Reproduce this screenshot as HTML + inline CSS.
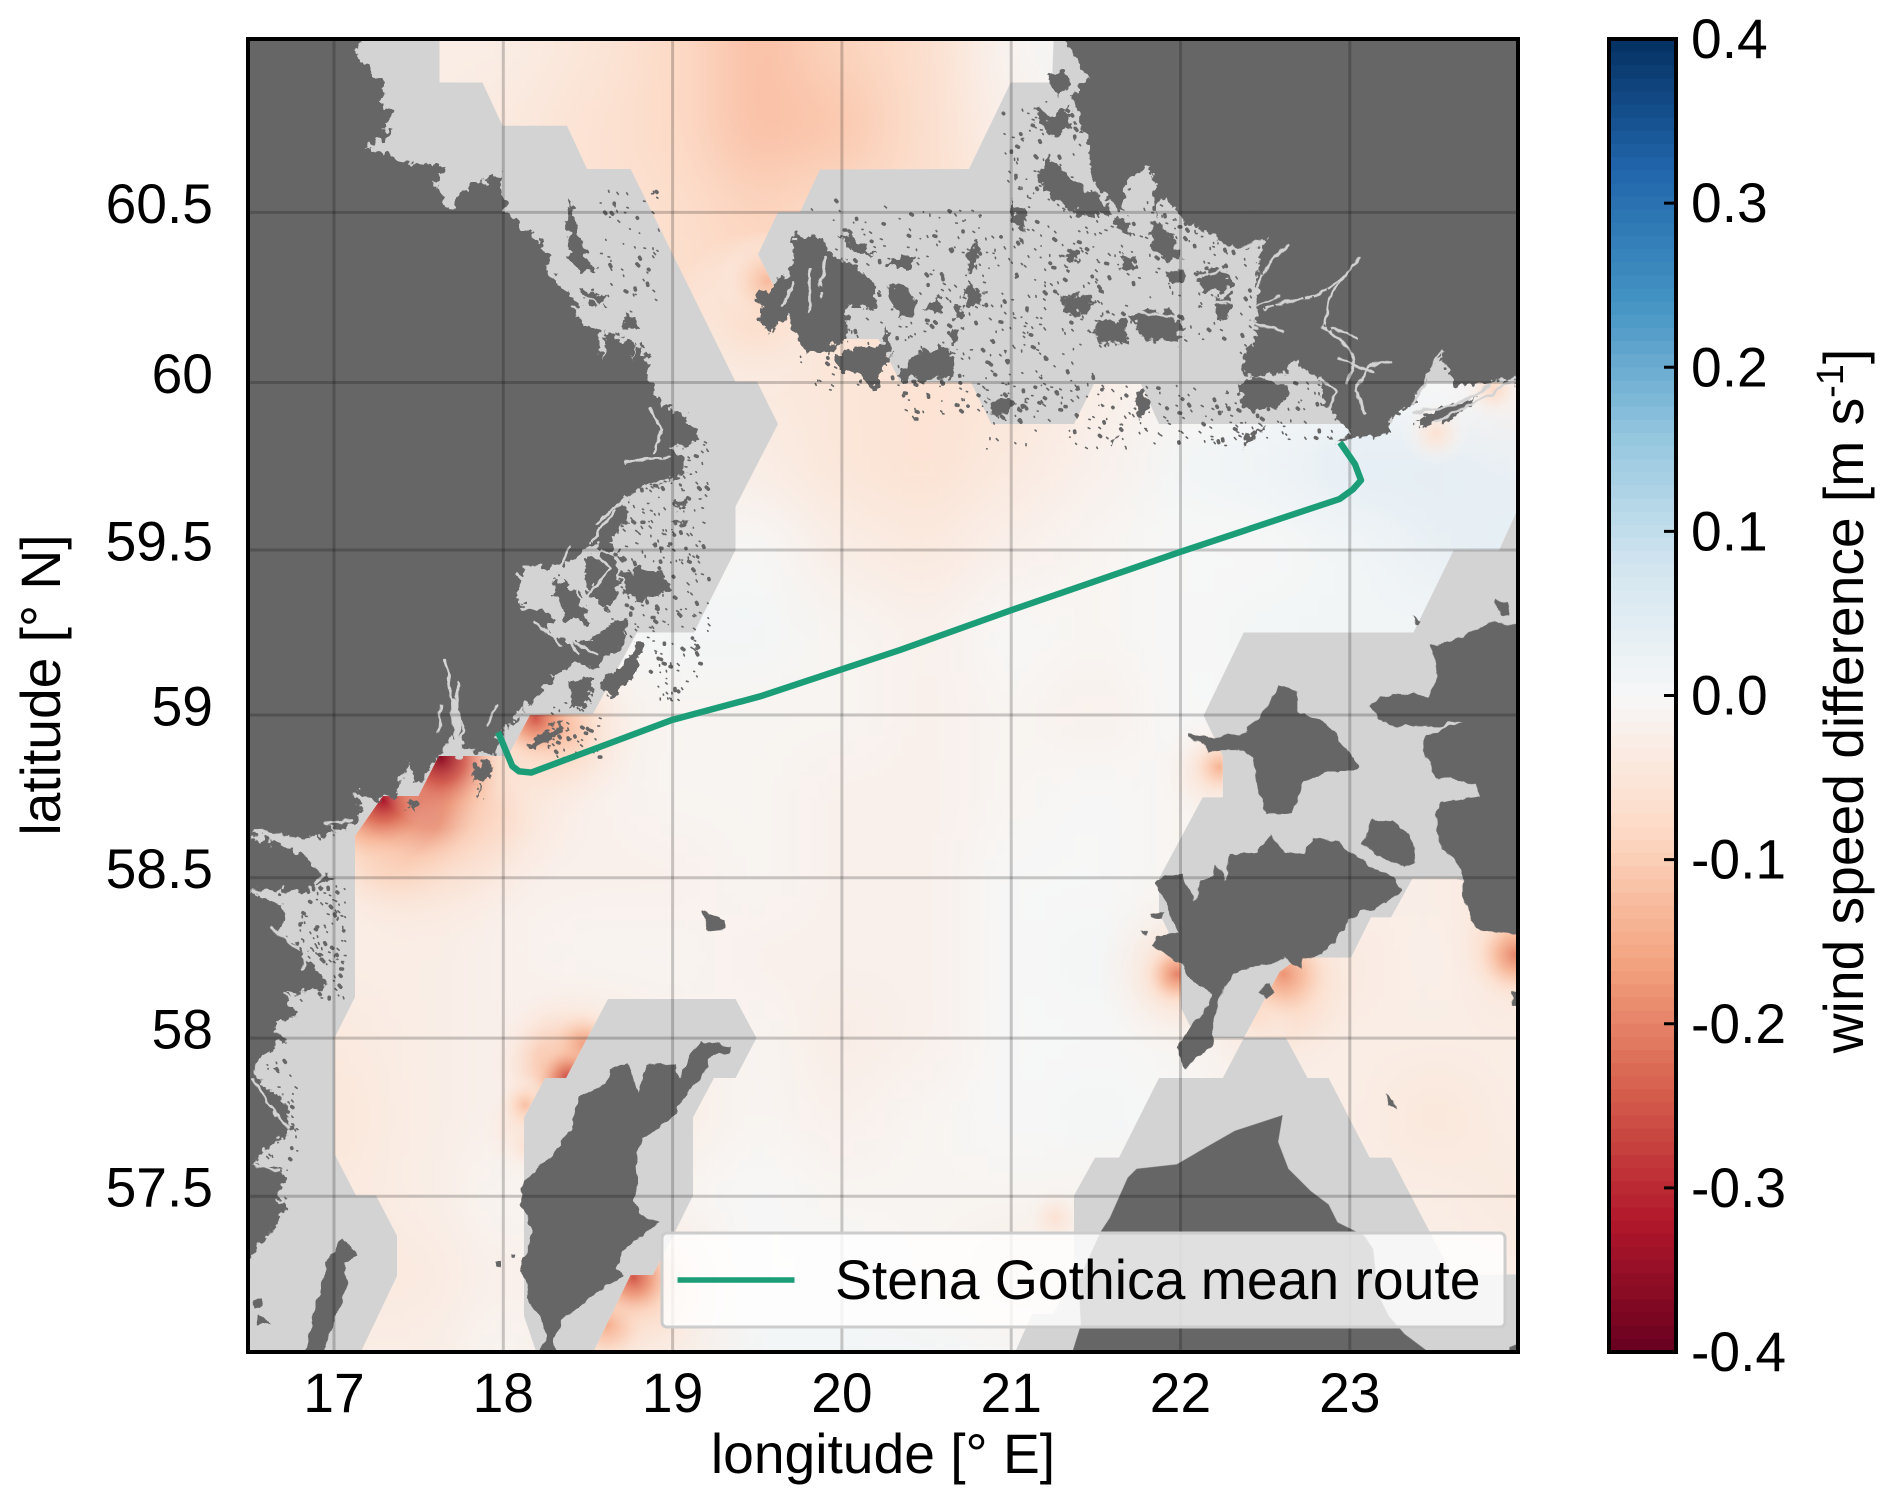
<!DOCTYPE html>
<html lang="en">
<head>
<meta charset="utf-8">
<title>Wind speed difference map</title>
<style>
html,body{margin:0;padding:0;background:#fff}
svg{display:block}
text{font-family:"Liberation Sans",sans-serif;fill:#000}
</style>
</head>
<body>
<svg id="figure" xmlns="http://www.w3.org/2000/svg" width="1892" height="1504" viewBox="0 0 1892 1504">
<defs>
<clipPath id="plot-clip"><rect x="248" y="39" width="1270" height="1313"/></clipPath>
<clipPath id="data-clip">
<polygon points="439.5,30 1054,30 1052,82.5 1010.7,82.5 969,169 820,169.5 800,212 778,212 758,254.4 800,339 878.4,339 900,381.6 971,382.5 991.5,424 1074,424 1094,384 1141,384 1159,424 1391,424 1411,382.5 1530,382.5 1530,513 1516,513 1499,550.4 1453.6,550.4 1413.4,632.5 1243.7,632.5 1203.6,715.5 1222.8,756 1222.8,797.3 1202.7,797.3 1159,878.6 1159,912 1181,959 1181,1008 1192,1030 1206,1038 1243.8,1038 1222.8,1078 1159,1078 1119,1157.6 1095,1157.6 1074,1195.5 1074,1275 1053,1314 1032,1314 1011.6,1360 589.5,1360 630.6,1275 653,1275 673,1235.7 693,1195.5 693,1117.4 714,1078 735.5,1078 756.5,1038 735.5,999 608,999 566,1078 545,1078 524,1117.4 524,1316 539,1360 357,1360 397,1276 397,1235.7 376,1195.5 356,1195.5 335,1155 335,1037 355,997 355,836 383,796 418.6,796 438.7,756 508,756 530,715 593,714 637,632.5 694,632.5 735.5,550 735.5,506.6 778,424 757,381.6 735.5,381.6 630.6,169 587,169 567,125.8 502.5,125.8 482.4,82.5 439.5,82.5"/>
<polygon points="1298.7,957.6 1351,957.6 1371,917.4 1391,917.4 1412.5,878.6 1455.8,878.6 1530,900 1530,1274.5 1452,1274.5 1391,1157.6 1369.6,1157.6 1328.6,1078 1307.6,1078 1286,1038 1243.8,1038 1279.5,972"/>
</clipPath>
<filter id="field-blur" filterUnits="userSpaceOnUse" x="0" y="-200" width="1892" height="1900"><feGaussianBlur stdDeviation="30"/></filter>
<filter id="coast-rough" filterUnits="userSpaceOnUse" x="0" y="0" width="1892" height="1504" color-interpolation-filters="sRGB">
  <feTurbulence type="fractalNoise" baseFrequency="0.11" numOctaves="3" seed="7" result="n"/>
  <feDisplacementMap in="SourceGraphic" in2="n" scale="17" xChannelSelector="R" yChannelSelector="G"/>
</filter>
<filter id="coast-fine" filterUnits="userSpaceOnUse" x="0" y="0" width="1892" height="1504" color-interpolation-filters="sRGB">
  <feTurbulence type="fractalNoise" baseFrequency="0.09" numOctaves="2" seed="3" result="n"/>
  <feDisplacementMap in="SourceGraphic" in2="n" scale="7" xChannelSelector="R" yChannelSelector="G"/>
</filter>
</defs>

<rect x="0" y="0" width="1892" height="1504" fill="#fff"/>

<g clip-path="url(#plot-clip)">
  <rect x="248" y="39" width="1270" height="1313" fill="#d3d3d3"/>
  <g clip-path="url(#data-clip)">
    <g id="field-cells" filter="url(#field-blur)"></g>
    <g id="field-hotspots"></g>
  </g>

  <g fill="#666666" filter="url(#coast-rough)">
    <g transform="translate(240,20) scale(.44643)">
      <polygon points="-60,0 280,0 265,80 285,110 300,130 330,135 310,185 345,205 320,240 345,245 325,265 280,290 330,298 380,322 440,320 460,340 435,370 460,420 485,425 490,390 520,365 585,350 595,420 640,470 700,530 680,555 710,575 750,625 760,670 800,700 810,760 820,700 880,720 880,770 885,725 905,735 925,820 940,860 1000,890 1025,920 1020,950 990,950 970,960 1000,990 1000,1015 960,1035 890,1050 850,1090 880,1100 840,1150 780,1180 730,1220 680,1225 640,1230 620,1290 640,1320 700,1330 690,1360 740,1440 690,1490 620,1550 600,1590 -60,1590"/>
      <polygon points="735,405 748,420 760,490 780,540 800,560 760,570 740,530 735,480"/>
      <polygon points="760,600 820,620 825,640 780,640"/>
      <polygon points="860,650 890,670 895,700 860,690"/>
      <polygon points="780,1200 840,1195 850,1260 830,1320 790,1300 770,1240"/>
      <polygon points="800,1160 840,1150 830,1185 800,1190"/>
      <polygon points="855,1240 900,1225 945,1235 965,1275 900,1300 860,1290"/>
      <polygon points="700,1245 760,1290 780,1350 725,1340"/>
      <polygon points="700,1390 780,1390 840,1350 870,1340 860,1390 800,1450 740,1440"/>
      <polygon points="730,1480 790,1470 785,1530 745,1540"/>
      <polygon points="810,1480 860,1440 890,1390 905,1400 880,1470 830,1520"/>
      <polygon points="975,1080 1000,1080 990,1095 975,1095"/>
      <polygon points="970,1130 1000,1125 990,1140"/>
      <polygon points="1240,480 1300,490 1330,530 1390,560 1430,600 1420,650 1360,640 1360,715 1330,730 1320,745 1270,740 1240,700 1230,660 1200,700 1165,680 1170,640 1150,620 1190,600 1215,580 1240,540"/>
      <polygon points="1380,735 1430,740 1450,690 1460,740 1430,800 1420,830 1390,800 1370,790 1340,790 1330,750"/>
      <polygon points="1450,595 1490,590 1510,630 1480,660 1455,640"/>
      <polygon points="1470,800 1500,770 1568,730 1600,740 1600,800 1520,810"/>
      <polygon points="1525,650 1568,620 1568,660"/>
      <polygon points="1340,480 1400,500 1420,530 1380,520"/>
      <polygon points="1450,540 1510,530 1500,560 1460,560"/>
    </g>
    <g transform="translate(900,20) scale(.44643)">
      <polygon points="345,-40 1500,-40 1500,800 1330,810 1240,825 1210,742 1180,800 1150,860 1095,895 1090,925 1000,945 975,950 1010,925 950,860 935,800 900,780 880,760 860,790 790,800 770,790 770,740 800,730 790,690 800,650 800,560 815,495 740,515 700,480 640,450 590,390 575,440 565,325 510,360 490,430 430,360 420,270 400,230 385,180 415,130 400,90 370,50"/>
      <polygon points="310,345 335,305 370,340 420,385 470,415 470,435 420,440 370,420 320,380"/>
      <polygon points="335,130 370,110 380,150 350,170"/>
      <polygon points="300,190 340,220 375,190 385,240 340,260 310,225"/>
      <polygon points="520,655 600,650 640,690 620,725 540,715"/>
      <polygon points="445,675 505,670 510,725 455,730 430,700"/>
      <polygon points="660,565 735,560 740,600 680,610"/>
      <polygon points="705,625 750,610 745,660 710,680"/>
      <polygon points="565,450 610,480 640,535 595,540 560,500"/>
      <polygon points="600,560 640,560 640,590 605,595"/>
      <polygon points="360,625 430,615 425,660 370,655"/>
      <polygon points="365,510 400,520 400,540 375,545"/>
      <polygon points="150,590 185,610 180,640 145,630"/>
      <polygon points="120,640 140,640 142,668 122,665"/>
      <polygon points="0,600 30,615 32,660 0,670"/>
      <polygon points="112,700 125,700 132,725 118,728"/>
      <polygon points="10,770 60,735 100,750 100,790 60,805 15,800"/>
      <polygon points="250,400 280,430 278,480 255,450"/>
      <polygon points="480,440 520,450 515,480 485,475"/>
      <polygon points="490,530 530,530 530,560 495,555"/>
      <polygon points="150,530 170,490 170,560 152,570"/>
      <polygon points="200,850 250,845 245,885 205,880"/>
      <polygon points="760,810 800,800 870,820 860,860 790,880 765,860"/>
      <polygon points="950,780 1010,790 1080,760 1070,800 1060,870 1000,880 955,840"/>
      <polygon points="530,840 550,830 560,880 525,880"/>
      <polygon points="470,935 495,930 480,950"/>
      <polygon points="770,930 820,910 790,940 770,955"/>
      <polygon points="1150,900 1230,860 1290,850 1240,890 1170,915"/>
    </g>
    <g transform="translate(240,700) scale(.44643)">
      <polygon points="-60,-10 650,-10 620,40 590,60 580,80 570,125 520,115 470,85 445,125 400,190 380,140 340,220 300,220 250,205 280,250 230,300 190,275 215,300 130,310 30,292 30,302 130,340 210,400 150,430 30,425 100,470 90,520 140,560 200,640 100,660 130,700 80,730 100,760 50,800 30,840 100,900 120,965 60,1000 30,1040 110,1060 80,1110 105,1130 70,1190 26,1245 -60,1250"/>
      <polygon points="520,145 560,140 565,175 525,185"/>
      <polygon points="640,100 680,70 730,50 700,85 660,110"/>
      <polygon points="533,195 540,195 538,225"/>
      <polygon points="375,225 395,230 392,262 380,250"/>
    </g>
  </g>

  <g fill="#666666" filter="url(#coast-fine)">
    <g transform="translate(240,700) scale(.44643)">
      <polygon points="630,1090 660,1050 700,1020 740,960 760,890 820,860 830,830 870,810 890,880 910,820 975,815 985,850 1010,790 1035,765 1100,775 1095,790 1060,795 1030,850 1000,880 980,920 940,960 900,980 885,1040 890,1100 880,1120 895,1150 940,1170 900,1200 860,1230 840,1270 860,1290 780,1340 720,1390 700,1440 725,1480 660,1480 690,1420 650,1350 640,1300 625,1280 655,1190 630,1130"/>
      <polygon points="140,1480 175,1340 195,1260 230,1205 265,1245 235,1260 240,1320 200,1420 180,1480"/>
      <polygon points="1035,473 1075,483 1090,495 1085,515 1050,518"/>
      <polygon points="575,1260 588,1260 586,1270 573,1268"/>
      <polygon points="608,1240 618,1240 616,1250 608,1249"/>
      <polygon points="30,1345 48,1340 45,1362 32,1360"/>
      <polygon points="40,1380 70,1395 40,1400"/>
    </g>
    <g transform="translate(900,700) scale(.44643)">
      <polygon points="595,392 635,392 660,455 672,405 700,395 705,365 730,405 740,345 800,340 830,300 860,340 905,345 925,310 985,320 1050,370 1110,400 1125,430 1060,470 1030,470 1000,500 985,530 945,570 905,580 900,605 860,575 835,590 800,595 750,610 725,640 715,670 700,730 705,770 640,825 620,780 650,730 680,700 700,660 650,625 630,590 565,550 575,530 625,520 590,440 570,410"/>
      <polygon points="645,75 690,85 770,75 810,30 850,-33 890,-23 890,25 960,50 990,100 1030,150 1025,160 950,160 905,185 880,255 820,255 800,200 790,130 760,110 720,110 690,120 680,100 645,85"/>
      <polygon points="1035,320 1060,270 1100,270 1140,300 1160,360 1130,375 1070,350"/>
      <polygon points="1500,-173 1320,-173 1250,-138 1190,-123 1205,-53 1190,-23 1165,17 1200,50 1260,50 1180,80 1170,110 1200,170 1290,190 1300,215 1210,230 1200,260 1210,330 1260,380 1260,440 1290,510 1340,520 1500,540"/>
      <polygon points="1050,10 1100,-15 1170,-10 1240,20 1220,60 1140,60 1080,50"/>
      <polygon points="560,480 590,475 585,490 560,490"/>
      <polygon points="540,515 552,520 548,530"/>
      <polygon points="805,650 825,635 835,655 820,670"/>
      <polygon points="1088,885 1108,895 1112,915 1095,908"/>
      <polygon points="1370,650 1500,650 1500,690 1372,685"/>
      <polygon points="1335,-223 1360,-218 1365,-188 1345,-193"/>
      <polygon points="1145,-188 1165,-178 1160,-171"/>
    </g>
  </g>

  <g fill="#666666" transform="translate(900,700) scale(.44643)">
    <polygon points="380,1480 405,1400 400,1300 450,1190 470,1160 510,1070 530,1050 620,1040 680,1005 750,965 857,930 847,990 870,1050 920,1100 960,1130 980,1170 1040,1200 1060,1230 1070,1330 1095,1380 1130,1420 1210,1480"/>
    <polygon points="1365,1450 1400,1435 1400,1470 1365,1470"/>
  </g>

  <g fill="none" stroke="#d3d3d3" stroke-linejoin="round" stroke-linecap="round" filter="url(#coast-fine)">
    <g transform="translate(240,20) scale(.44643)" stroke-width="6">
      <path d="M865 995L900 985L960 980M920 870L945 920L925 970M620 1240L640 1260L620 1290L670 1310L630 1320M700 1220L750 1260L770 1310L820 1350M705 1320L720 1370L760 1420M690 1360L760 1400L800 1420M800 1130L850 1080L930 1040L960 1030M780 1180L830 1230L780 1290M460 1435L470 1500L490 1590M490 1480L480 1590M740 1180L700 1250M840 1100L790 1160M660 1350L720 1400"/>
      <path d="M710 575L760 610L810 640M745 640L790 670" stroke-width="4"/>
      <path d="M1275 560L1275 650M1310 530L1300 620M1240 590L1215 640" stroke-width="7"/>
    </g>
    <g transform="translate(900,20) scale(.44643)" stroke-width="6">
      <path d="M1030 530L1000 570L960 620L950 690L1000 730L1020 760L1000 810M1000 570L930 620L860 630L815 650M870 505L830 540L800 600L790 680L860 695M815 495L740 520L670 540M790 600L760 570L720 560L650 580L640 560L620 470L590 400M1215 740L1180 800L1150 860M1100 765L1050 775L1020 830L1040 880M790 680L770 720M640 640L790 630M515 650L800 690M950 690L1000 700L1020 715M985 760L1060 790M1320 820L1250 860L1150 880M1381 800L1300 850L1200 900M940 800L980 830L960 870"/>
      <path d="M700 550L800 525M560 590L640 610M660 630L730 640M690 700L780 690M850 620L800 640" stroke-width="4"/>
    </g>
    <g transform="translate(240,700) scale(.44643)" stroke-width="6">
      <path d="M480 0L500 70L490 120M450 10L445 70M575 10L555 60M30 425L110 470L180 520L220 570M100 470L150 540L140 600M100 660L160 700L130 760M80 740L130 770M30 830L90 880L130 950M30 850L80 930M30 1040L110 1060M190 275L250 270M30 292L130 312L210 330M70 510L130 560M60 900L110 960"/>
      <path d="M480 10L490 125" stroke-width="15"/>
      <path d="M130 320L190 390L160 420" stroke-width="10"/>
    </g>
  </g>
  <g id="speckles" fill="none" stroke="#666666" stroke-linecap="round"></g>

  <g id="grid"></g>
  <polyline id="route" fill="none" stroke="#1b9e77" stroke-width="6.4" stroke-linejoin="round" stroke-linecap="butt"/>
</g>

<g>
  <rect x="662" y="1233" width="843" height="94" rx="5" ry="5" fill="#fff" fill-opacity=".8" stroke="#cccccc" stroke-width="3"/>
  <line x1="677.5" y1="1280" x2="794.5" y2="1280" stroke="#1b9e77" stroke-width="5.6"/>
  <text x="835" y="1299" font-size="55.3">Stena Gothica mean route</text>
</g>

<rect x="248" y="39" width="1270" height="1313" fill="none" stroke="#000" stroke-width="4"/>

<g id="x-ticks"></g>
<g id="y-ticks"></g>
<text x="883" y="1473" font-size="55.2" text-anchor="middle">longitude [° E]</text>
<text transform="translate(60,685) rotate(-90)" font-size="55.2" text-anchor="middle">latitude [° N]</text>

<g>
  <g id="cbar-levels"></g>
  <g id="cbar-ticks"></g>
  <rect x="1609" y="39" width="67" height="1313" fill="none" stroke="#000" stroke-width="4"/>
</g>
<text transform="translate(1863,701) rotate(-90)" font-size="55.2" text-anchor="middle">wind speed difference [m s<tspan font-size="38" dy="-20">-1</tspan><tspan dy="20">]</tspan></text>

<script>
// ---- chart data ----
const tickLons = [17, 18, 19, 20, 21, 22, 23];
const tickLats = [60.5, 60, 59.5, 59, 58.5, 58, 57.5];
const colorbarTicks = ["0.4", "0.3", "0.2", "0.1", "0.0", "-0.1", "-0.2", "-0.3", "-0.4"];

const routeLons = [17.969, 18.053, 18.093, 18.164, 18.996, 19.516, 20.343, 20.997, 21.997, 22.94, 23.019, 23.066, 23.031, 22.942];
const routeLats = [58.948, 58.844, 58.828, 58.824, 58.985, 59.057, 59.198, 59.318, 59.494, 59.653, 59.682, 59.709, 59.757, 59.822];

const fieldLons = [16.5, 17, 17.5, 18, 18.5, 19, 19.5, 20, 20.5, 21, 21.5, 22, 22.5, 23, 23.5, 24];
const fieldLats = [61, 60.75, 60.5, 60.25, 60, 59.75, 59.5, 59.25, 59, 58.75, 58.5, 58.25, 58, 57.75, 57.5, 57.25, 57];
const fieldValues = [
 [-.03,-.03,-.03,-.03,-.05,-.08,-.12,-.09,-.07,-.01,.01,.01,.01,.01,.01,.01],
 [-.03,-.03,-.03,-.04,-.06,-.08,-.12,-.11,-.07,-.02,0,0,0,0,0,0],
 [-.04,-.04,-.04,-.05,-.06,-.07,-.09,-.08,-.07,-.04,0,0,0,0,0,0],
 [-.04,-.04,-.04,-.05,-.06,-.07,-.08,-.06,-.06,-.05,-.02,0,0,0,0,0],
 [-.04,-.04,-.04,-.04,-.04,-.04,-.04,-.05,-.06,-.05,-.03,-.01,0,.01,0,-.02],
 [-.03,-.03,-.03,-.03,-.03,-.03,-.03,-.05,-.06,-.04,-.02,.01,.02,.04,.04,.03],
 [-.01,-.01,-.01,-.01,-.01,-.01,0,-.03,-.04,-.02,-.01,0,0,.01,.03,.04],
 [-.01,-.01,-.01,-.01,0,.01,.01,-.01,-.02,0,-.01,0,.01,.01,.01,.01],
 [-.03,-.03,-.03,-.04,-.03,-.01,-.01,-.01,-.02,-.01,-.02,0,0,0,0,0],
 [-.05,-.05,-.06,-.06,-.02,-.01,-.01,-.02,-.02,-.01,0,-.01,-.01,-.01,-.01,-.01],
 [-.03,-.03,-.04,-.02,-.02,-.02,-.01,-.02,-.02,0,0,-.01,-.02,-.02,-.03,-.05],
 [-.03,-.03,-.03,-.02,-.01,-.01,-.02,-.02,-.02,0,.01,-.03,-.04,-.04,-.02,-.06],
 [-.04,-.04,-.03,-.02,-.04,-.02,-.01,-.03,-.02,0,0,-.01,-.03,-.03,-.03,-.03],
 [-.05,-.05,-.03,-.02,-.05,-.03,-.01,-.02,-.01,0,.01,0,-.03,-.03,-.05,-.03],
 [-.04,-.04,-.03,-.01,-.01,-.01,0,-.01,-.01,-.01,-.01,-.02,-.03,-.03,-.03,-.04],
 [-.04,-.04,-.04,-.02,-.03,-.04,0,0,-.01,-.03,-.04,-.03,-.03,-.03,-.03,-.03],
 [-.03,-.03,-.03,-.01,-.03,-.03,.01,.01,.01,0,-.01,-.02,-.02,-.02,-.02,-.02]
];

const hotspotLons = [17.6, 17.35, 18.3, 18.2, 18.35, 18.75, 22.6, 22, 24, 22.2, 19.5, 19.56, 23.85, 23.51, 21.26, 22.45, 18.13, 18.13, 22.23, 18.61, 23.98, 22.61, 21.98, 18.48, 18.34, 18.77, 18.39, 18.19, 17.21, 17.51, 17.29, 17.63];
const hotspotLats = [58.72, 58.62, 58.95, 57.72, 57.92, 57.2, 58.15, 58.2, 58.3, 58.83, 60.2, 60.30, 59.98, 59.85, 57.43, 58.08, 57.79, 57.66, 58.84, 57.09, 58.26, 58.20, 58.20, 57.97, 58.96, 57.24, 57.87, 58.99, 58.69, 58.74, 58.74, 58.87];
const hotspotValues = [-.14, -.13, -.12, -.1, -.15, -.12, -.1, -.08, -.1, -.07, -.08, -.13, -.08, -.06, -.06, -.08, -.12, -.06, -.14, -.15, -.2, -.18, -.2, -.18, -.15, -.25, -.28, -.25, -.22, -.28, -.33, -.36];
const hotspotReach = [.85, .6, .55, .35, .45, .55, .6, .5, .5, .35, .5, .3, .18, .2, .2, .24, .18, .15, .2, .3, .3, .35, .24, .27, .3, .3, .24, .3, .35, .5, .36, .42];

// ---- axis functions ----
const SVGNS = "http://www.w3.org/2000/svg";
const LON_PX = 169.3;
const LAT_PX = 9670;
function merc(lat) { return Math.log(Math.tan(Math.PI / 4 + lat * Math.PI / 360)); }
function xOf(lon) { return 334 + (lon - 17) * LON_PX; }
function yOf(lat) { return 382.5 + LAT_PX * (merc(60) - merc(lat)); }
function cbarY(v) { return 39 + (0.4 - v) / 0.8 * 1313; }

const rdbu = ["#67001f","#b2182b","#d6604d","#f4a582","#fddbc7","#f7f7f7","#d1e5f0","#92c5de","#4393c3","#2166ac","#053061"];
function hexRgb(h) { return [1, 3, 5].map(function (i) { return parseInt(h.substr(i, 2), 16); }); }
function colorOf(v) {
  const t = Math.max(0, Math.min(0.99999, (v + 0.4) / 0.8)) * (rdbu.length - 1);
  const i = Math.floor(t), f = t - i;
  const a = hexRgb(rdbu[i]), b = hexRgb(rdbu[i + 1]);
  return "rgb(" + a.map(function (c, k) { return Math.round(c + (b[k] - c) * f); }).join(",") + ")";
}
function make(tag, attrs, parent) {
  const el = document.createElementNS(SVGNS, tag);
  for (const k in attrs) el.setAttribute(k, attrs[k]);
  parent.appendChild(el);
  return el;
}

// ---- heatmap cells ----
const cellsGroup = document.getElementById("field-cells");
fieldLats.forEach(function (lat, r) {
  fieldLons.forEach(function (lon, c) {
    let top = yOf(lat + 0.125), bottom = yOf(lat - 0.125);
    let left = xOf(lon - 0.25), right = xOf(lon + 0.25);
    if (r === 0) top -= 120;
    if (r === fieldLats.length - 1) bottom += 120;
    if (c === 0) left -= 120;
    if (c === fieldLons.length - 1) right += 120;
    const cell = make("rect", { x: left, y: top, width: right - left + 1, height: bottom - top + 1, fill: colorOf(fieldValues[r][c]) }, cellsGroup);
    
    
  });
});

// ---- coastal hotspots ----
const hotGroup = document.getElementById("field-hotspots");
const svgDefs = document.querySelector("#figure defs");
hotspotValues.forEach(function (v, i) {
  const id = "hot-" + i;
  const grad = make("radialGradient", { id: id }, svgDefs);
  make("stop", { offset: "0", "stop-color": colorOf(v), "stop-opacity": "1" }, grad);
  make("stop", { offset: "0.35", "stop-color": colorOf(v * 0.72), "stop-opacity": "0.8" }, grad);
  make("stop", { offset: "0.7", "stop-color": colorOf(v * 0.4), "stop-opacity": "0.35" }, grad);
  make("stop", { offset: "1", "stop-color": colorOf(v * 0.2), "stop-opacity": "0" }, grad);
  const spot = make("circle", { cx: xOf(hotspotLons[i]), cy: yOf(hotspotLats[i]), r: hotspotReach[i] * LON_PX, fill: "url(#" + id + ")" }, hotGroup);
  
  
});

// ---- basemap islets (decorative coastline texture, not data) ----
const speckleAreas = [
  [900, 210, 1100, 420, 260], [1090, 190, 1340, 340, 200], [1000, 100, 1080, 210, 60],
  [970, 385, 1240, 450, 110], [800, 200, 900, 390, 70], [610, 440, 710, 640, 170],
  [650, 640, 700, 700, 35], [548, 700, 600, 760, 35], [300, 880, 345, 1000, 80],
  [265, 1060, 300, 1180, 30], [600, 190, 660, 300, 40], [1240, 340, 1340, 440, 60]
];
let speckleSeed = 48271;
function nextSpeckle() { speckleSeed = (speckleSeed * 16807) % 2147483647; return speckleSeed / 2147483647; }
const speckleGroup = document.getElementById("speckles");
[1.6, 3.6].forEach(function (w, wi) {
  let d = "";
  speckleAreas.forEach(function (a) {
    const n = wi === 0 ? a[4] : Math.round(a[4] / 3);
    for (let i = 0; i < n; i++) {
      const sx = a[0] + nextSpeckle() * (a[2] - a[0]);
      const sy = a[1] + nextSpeckle() * (a[3] - a[1]);
      d += "M" + sx.toFixed(1) + " " + sy.toFixed(1) + "l" + (nextSpeckle() * 2).toFixed(1) + " " + (nextSpeckle() * 2).toFixed(1);
    }
  });
  const p = make("path", { d: d, "stroke-width": w }, speckleGroup);
  
  
});

// ---- graticule ----
const gridGroup = document.getElementById("grid");
const xTickGroup = document.getElementById("x-ticks");
const yTickGroup = document.getElementById("y-ticks");
tickLons.forEach(function (lon) {
  const g = make("line", { x1: xOf(lon), x2: xOf(lon), y1: 39, y2: 1352, stroke: "#000", "stroke-opacity": ".2", "stroke-width": "3" }, gridGroup);
  
  
  const t = make("text", { x: xOf(lon), y: 1412, "font-size": "55.2", "text-anchor": "middle" }, xTickGroup);
  t.textContent = String(lon);
  
  
});
tickLats.forEach(function (lat) {
  const g = make("line", { x1: 248, x2: 1518, y1: yOf(lat), y2: yOf(lat), stroke: "#000", "stroke-opacity": ".2", "stroke-width": "3" }, gridGroup);
  
  
  const t = make("text", { x: 213, y: yOf(lat) + 10.5, "font-size": "55.2", "text-anchor": "end" }, yTickGroup);
  t.textContent = String(lat);
  
  
});

// ---- route ----
document.getElementById("route").setAttribute("points", routeLons.map(function (lon, i) {
  return xOf(lon).toFixed(1) + "," + yOf(routeLats[i]).toFixed(1);
}).join(" "));

// ---- colorbar ----
const levelsGroup = document.getElementById("cbar-levels");
for (let k = 0; k < 100; k++) {
  const hi = 0.4 - k * 0.008;
  const lvl = make("rect", { x: 1609, y: cbarY(hi), width: 67, height: 1313 / 100 + 0.6, fill: colorOf(hi - 0.004) }, levelsGroup);
  
  
}
const cbarTickGroup = document.getElementById("cbar-ticks");
colorbarTicks.forEach(function (label) {
  const v = parseFloat(label), y = cbarY(v);
  if (Math.abs(v) < 0.39) {
    const m = make("line", { x1: 1664, x2: 1676, y1: y, y2: y, stroke: "#000", "stroke-width": "3" }, cbarTickGroup);
    
    
  }
  const t = make("text", { x: 1691, y: y + 19, "font-size": "55.2" }, cbarTickGroup);
  t.textContent = label;
  
  
});
</script>
</svg>
</body>
</html>
